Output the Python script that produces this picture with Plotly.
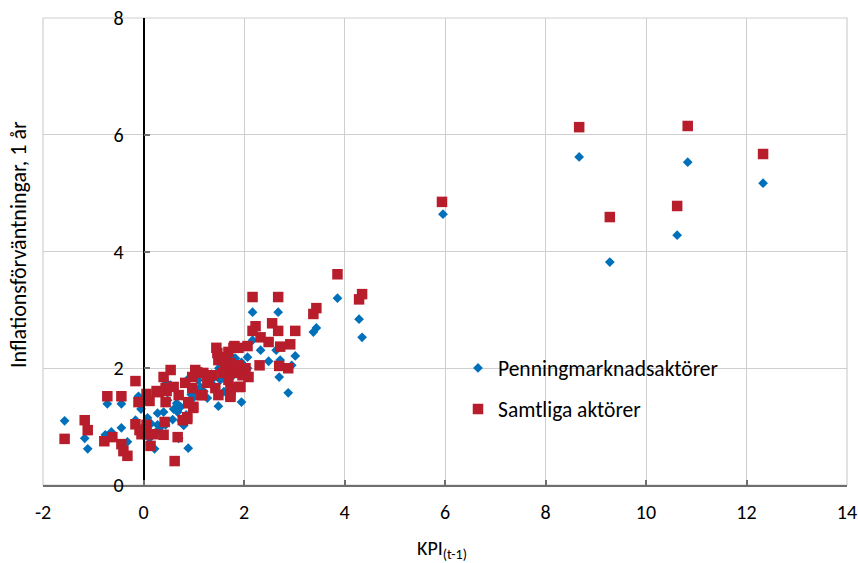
import plotly.graph_objects as go

# ---- data ----
penning_x = [5.96, 8.67, 9.28, 10.62, 10.83, 12.33,
             3.86, 4.29, 4.35, 3.44, 3.38, 3.02,
             2.17, 2.68, 2.17, 2.33, 2.64, 2.49, 2.72, 2.07, 2.70, 2.88, 1.95, 1.49, 1.81,
             1.83, 2.07, 1.67, 1.53, 1.39, 1.79, 1.27, 1.09, 1.07, 0.87, 0.46, 0.74, 0.99,
             0.40, 0.28, 0.68, 0.44, 0.38, 0.28, 0.70, 0.89, 0.22, 0.12, 0.08, -0.16, -0.10,
             -0.44, -0.32, -0.76, -0.64, -0.72, -0.44, -1.57, -1.17, -1.11, 0.54, 1.13, 1.50,
             0.75, 0.60, 0.95, 1.20, 1.60, 0.85, 0.00, -0.05, 1.35, 1.55, 1.70, 1.95, 1.00,
             0.30, 0.48, 0.58, 0.80, 1.40, 1.75, 0.15, 2.95, 0.66]
penning_y = [4.64, 5.62, 3.82, 4.28, 5.53, 5.17,
             3.20, 2.84, 2.53, 2.69, 2.62, 2.21,
             2.96, 2.96, 2.48, 2.31, 2.31, 2.12, 2.14, 2.19, 1.85, 1.58, 1.42, 1.35, 2.17,
             2.17, 2.00, 1.92, 1.80, 1.83, 2.00, 1.49, 1.80, 1.58, 1.80, 1.75, 1.34, 1.34,
             1.25, 1.23, 1.25, 1.03, 1.03, 1.03, 0.80, 0.63, 0.62, 0.80, 1.15, 1.11, 1.52,
             0.98, 0.74, 0.86, 0.91, 1.39, 1.39, 1.10, 0.80, 0.62, 1.71, 1.68, 2.00,
             1.10, 1.30, 1.55, 1.60, 1.60, 1.20, 1.00, 1.30, 1.90, 2.05, 2.20, 2.10, 1.50,
             0.95, 1.45, 1.12, 1.02, 1.70, 1.85, 1.05, 2.05, 1.40]

samtliga_x = [5.94, 8.67, 9.28, 10.62, 10.83, 12.33,
              3.86, 4.35, 4.29, 3.44, 3.38, 3.02,
              2.17, 2.68, 2.23, 2.17, 2.56, 2.68, 2.33, 2.49, 2.72, 2.92, 2.31, 2.70, 2.88,
              1.45, 1.81, 2.07, 1.69, 1.49, 1.63, 1.89, 2.03, 1.03, 1.19, 0.97, 1.37, 1.57,
              1.77, 2.09, 0.83, 1.29, 1.69, 1.89, 0.97, 1.49, 1.73, 1.17, 0.70, 0.89, 0.99,
              0.87, 1.47, 1.59, 1.73, 1.79, 1.89, 1.73, 1.79, 1.73, 1.73, 1.93, 1.97, 1.87,
              1.43, 1.27, 1.07,
              -1.57, -1.17, -1.11, -0.72, -0.44, -0.16, -0.78, -0.62, -0.44, -0.40, -0.32,
              -0.10, 0.06, 0.12, -0.16, -0.08, 0.06, 0.08, -0.04, 0.20, 0.40, 0.14, 0.42,
              0.62, 0.26, 0.44, 0.54, 0.40, 0.60, 0.44, 0.68, 0.78, 0.87, 0.89, 0.99, 1.15,
              0.30, 0.46]
samtliga_y = [4.85, 6.13, 4.59, 4.78, 6.15, 5.67,
              3.61, 3.27, 3.18, 3.03, 2.93, 2.64,
              3.22, 3.22, 2.72, 2.64, 2.77, 2.64, 2.53, 2.45, 2.37, 2.41, 2.05, 2.04, 2.00,
              2.35, 2.38, 2.38, 2.28, 2.14, 2.09, 2.05, 2.00, 1.97, 1.92, 1.85, 1.88, 1.92,
              1.93, 1.85, 1.75, 1.76, 1.80, 1.68, 1.66, 1.54, 1.54, 1.54, 1.54, 1.40, 1.32,
              1.16, 2.26, 2.19, 2.09, 2.35, 2.35, 1.97, 1.92, 1.63, 1.51, 1.68, 1.88, 1.97,
              1.66, 1.75, 1.93,
              0.79, 1.11, 0.94, 1.52, 1.52, 1.78, 0.75, 0.82, 0.70, 0.58, 0.50,
              1.42, 1.56, 1.44, 1.04, 0.94, 1.03, 0.87, 0.87, 0.87, 0.86, 0.67, 1.08,
              0.41, 1.61, 1.66, 1.97, 1.85, 1.68, 1.42, 0.82, 1.11, 1.13, 1.42, 1.34, 1.54,
              1.59, 1.61]

x_ticks = [-2, 0, 2, 4, 6, 8, 10, 12, 14]
y_ticks = [0, 2, 4, 6, 8]

series_names = ["Penningmarknadsaktörer", "Samtliga aktörer"]
x_title = "KPI<sub>(t-1)</sub>"
y_title = "Inflationsförväntningar, 1 år"
top_title = "Diagram 2. Inflationsförväntning på ett års sikt (i procent) och KPI-inflation (årlig procentuell förändring)"

FONT = "Carlito, Calibri, Lato, sans-serif"
BLUE = "#0070BA"
RED = "#B81D2C"
GRID = "#CFCFCF"
AXIS = "#6E6E6E"

fig = go.Figure()
fig.add_trace(go.Scatter(
    x=penning_x, y=penning_y, mode="markers", name=series_names[0],
    marker=dict(symbol="diamond", size=7.5, color=BLUE, line=dict(width=0)),
    legend="legend",
))
fig.add_trace(go.Scatter(
    x=samtliga_x, y=samtliga_y, mode="markers", name=series_names[1],
    marker=dict(symbol="square", size=10.5, color=RED, line=dict(width=0)),
    legend="legend2",
))

# the page's body margin is removed (see post_script), so the figure fills the window
W, H = 858, 563
L, R, T, B = 43, 11, 18, 78
pw, ph = W - L - R, H - T - B


def px_x(sx):
    return (sx - L) / pw


def px_y(sy):
    return (H - B - sy) / ph


fig.update_layout(
    width=W, height=H,
    margin=dict(l=L, r=R, t=T, b=B, pad=0, autoexpand=False),
    paper_bgcolor="white", plot_bgcolor="white",
    font=dict(family=FONT, size=20, color="#000000"),
    showlegend=True,
    legend=dict(x=px_x(478 - 20), y=px_y(368), xanchor="left", yanchor="middle",
                bgcolor="rgba(0,0,0,0)", font=dict(size=21.5), itemwidth=30),
    legend2=dict(x=px_x(478 - 20), y=px_y(409), xanchor="left", yanchor="middle",
                 bgcolor="rgba(0,0,0,0)", font=dict(size=21.5), itemwidth=30),
    xaxis=dict(
        range=[-2, 14], tickvals=x_ticks, ticktext=[str(v) for v in x_ticks],
        showgrid=True, gridcolor=GRID, gridwidth=1,
        showline=True, linecolor=AXIS, linewidth=1.5,
        ticks="inside", ticklen=5, tickcolor=AXIS, tickwidth=1.5,
        zeroline=False, ticklabelstandoff=8, automargin=False,
        ticklabeloverflow="allow", tickfont=dict(size=20),
    ),
    yaxis=dict(
        range=[0, 8], tickvals=y_ticks, ticktext=[str(v) for v in y_ticks],
        showgrid=True, gridcolor=GRID, gridwidth=1,
        anchor="free", position=(0 - (-2)) / 16,
        showline=True, linecolor="#000000", linewidth=1.5,
        ticks="inside", ticklen=6, tickcolor=AXIS, tickwidth=1.5,
        zeroline=False, ticklabelstandoff=15, automargin=False,
        ticklabeloverflow="allow", tickfont=dict(size=20),
    ),
    shapes=[
        dict(type="rect", xref="paper", yref="paper", x0=0, x1=1, y0=0, y1=1,
             line=dict(color=GRID, width=1.2), fillcolor="rgba(0,0,0,0)", layer="below"),
    ],
    annotations=[
        dict(text=y_title, xref="paper", yref="paper", x=px_x(18), y=px_y(245),
             textangle=-90, showarrow=False, xanchor="center", yanchor="middle",
             font=dict(size=22)),
        dict(text=x_title, xref="paper", yref="paper", x=px_x(442), y=px_y(549),
             showarrow=False, xanchor="center", yanchor="middle", font=dict(size=20)),
        dict(text=top_title, xref="paper", yref="paper", x=px_x(0), y=px_y(2),
             showarrow=False, xanchor="left", yanchor="bottom", font=dict(size=20)),
    ],
)

fig.write_html(
    "out.html",
    config={"displayModeBar": False},
    post_script=("document.body.style.margin='0';"
                 "document.body.style.overflow='hidden';"
                 "document.documentElement.style.overflow='hidden';"),
)
